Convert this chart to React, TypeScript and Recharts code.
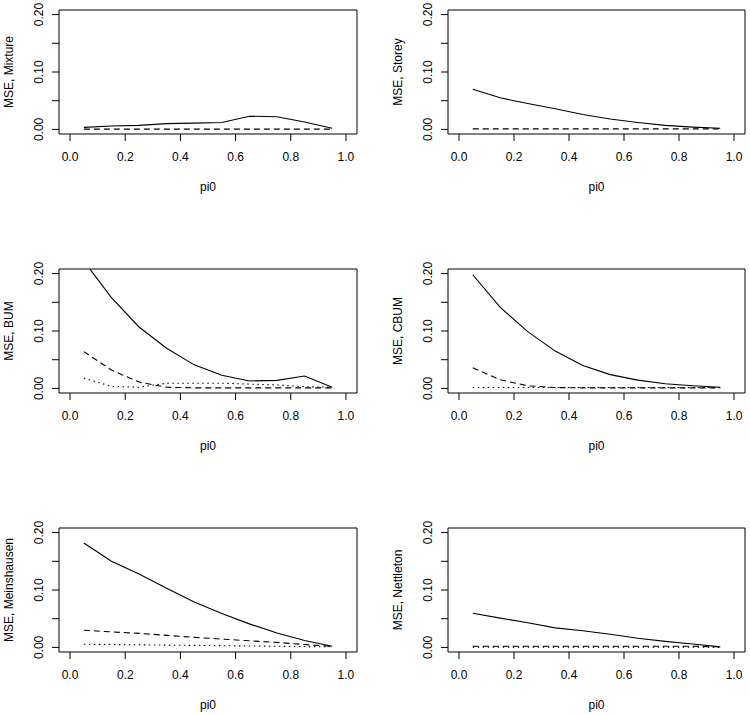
import { LineChart, Line, XAxis, YAxis, ReferenceArea, Label } from "recharts";

// pi0 grid used by every panel
const pi0 = [0.05, 0.15, 0.25, 0.35, 0.45, 0.55, 0.65, 0.75, 0.85, 0.95];

const xTicks = [0, 0.2, 0.4, 0.6, 0.8, 1.0];
const yTicks = [0, 0.05, 0.1, 0.15, 0.2];
const yLabelled = [0, 0.1, 0.2];

// Mixture
const mixSolid = [0.0035, 0.006, 0.007, 0.01, 0.011, 0.012, 0.023, 0.022, 0.013, 0.002];
const mixDashed = [0.0005, 0.0005, 0.0005, 0.0005, 0.0005, 0.0005, 0.0005, 0.0005, 0.0005, 0.0005];

// Storey
const storeySolid = [0.07, 0.055, 0.045, 0.036, 0.026, 0.018, 0.012, 0.007, 0.004, 0.002];
const storeyDashed = [0.001, 0.001, 0.001, 0.001, 0.001, 0.001, 0.001, 0.001, 0.001, 0.001];

// BUM
const bumSolid = [0.222, 0.158, 0.107, 0.07, 0.041, 0.023, 0.013, 0.014, 0.0215, 0.002];
const bumDashed = [0.064, 0.032, 0.011, 0.002, 0.001, 0.001, 0.001, 0.001, 0.001, 0.001];
const bumDotted = [0.018, 0.0035, 0.002, 0.009, 0.009, 0.009, 0.0075, 0.006, 0.003, 0.002];

// CBUM
const cbumSolid = [0.198, 0.141, 0.099, 0.065, 0.04, 0.024, 0.0145, 0.008, 0.0045, 0.002];
const cbumDashed = [0.036, 0.015, 0.0045, 0.0015, 0.001, 0.001, 0.001, 0.001, 0.001, 0.001];
const cbumDotted = [0.0015, 0.0015, 0.0015, 0.0015, 0.0015, 0.0015, 0.0015, 0.0015, 0.0015, 0.0015];

// Meinshausen
const meinSolid = [0.182, 0.15, 0.128, 0.103, 0.079, 0.059, 0.041, 0.025, 0.012, 0.002];
const meinDashed = [0.03, 0.027, 0.0245, 0.021, 0.0175, 0.0145, 0.0115, 0.0087, 0.005, 0.002];
const meinDotted = [0.0055, 0.005, 0.0045, 0.004, 0.0035, 0.003, 0.0025, 0.002, 0.0015, 0.001];

// Nettleton
const nettSolid = [0.0595, 0.051, 0.043, 0.034, 0.029, 0.023, 0.016, 0.0105, 0.006, 0.001];
const nettDashed = [0.002, 0.002, 0.002, 0.002, 0.002, 0.002, 0.002, 0.002, 0.002, 0.001];
const nettDotted = [0.0005, 0.0005, 0.0005, 0.0005, 0.0005, 0.0005, 0.0005, 0.0005, 0.0005, 0.0005];

const FONT = "'Liberation Sans', Arial, Helvetica, sans-serif";
const X_DOMAIN: [number, number] = [-0.04, 1.04];
const Y_DOMAIN: [number, number] = [-0.008, 0.208];
const Y_AXIS_W = 60;
const X_AXIS_H = 70;
const TOP = 24;
const RIGHT = 5;
const BOX_H = 124;

const XTick = (props: any) => {
  const { x, y, payload } = props;
  return (
    <text x={x} y={y} textAnchor="middle" fontSize={12} fontFamily={FONT} fill="#000">
      {payload.value.toFixed(1)}
    </text>
  );
};

const YTick = (props: any) => {
  const { x, y, payload } = props;
  const v = payload.value;
  if (!yLabelled.some((t) => Math.abs(t - v) < 1e-9)) return <g />;
  return (
    <text
      x={x}
      y={y}
      transform={`rotate(-90, ${x}, ${y})`}
      textAnchor="middle"
      fontSize={12}
      fontFamily={FONT}
      fill="#000"
    >
      {v.toFixed(2)}
    </text>
  );
};

interface PanelProps {
  name: string;
  left: number; // plot box left edge on the page
  top: number; // plot box top edge on the page
  boxW: number;
  solid: number[];
  dashed?: number[];
  dotted?: number[];
}

function Panel({ name, left, top, boxW, solid, dashed, dotted }: PanelProps) {
  const data = pi0.map((x, i) => ({
    x,
    solid: solid[i],
    dashed: dashed ? dashed[i] : null,
    dotted: dotted ? dotted[i] : null,
  }));

  return (
    <div style={{ position: "absolute", left: left - Y_AXIS_W, top: top - TOP }}>
      <LineChart
        width={Y_AXIS_W + boxW + RIGHT}
        height={TOP + BOX_H + X_AXIS_H}
        data={data}
        margin={{ top: TOP, right: RIGHT, left: 0, bottom: 0 }}
        style={{ overflow: "visible" }}
      >
        <XAxis
          dataKey="x"
          type="number"
          domain={X_DOMAIN}
          ticks={xTicks}
          allowDataOverflow
          axisLine={false}
          tickLine={{ stroke: "#000" }}
          tickSize={7}
          tickMargin={20}
          tick={XTick}
          height={X_AXIS_H}
          interval={0}
        >
          <Label
            content={({ viewBox }: any) => (
              <text
                x={viewBox.x + viewBox.width / 2}
                y={viewBox.y + 57}
                textAnchor="middle"
                fontSize={12}
                fontFamily={FONT}
                fill="#000"
              >
                pi0
              </text>
            )}
          />
        </XAxis>
        <YAxis
          type="number"
          domain={Y_DOMAIN}
          ticks={yTicks}
          allowDataOverflow
          axisLine={false}
          tickLine={{ stroke: "#000" }}
          tickSize={7}
          tickMargin={9}
          tick={YTick}
          width={Y_AXIS_W}
          interval={0}
        >
          <Label
            content={({ viewBox }: any) => {
              const lx = viewBox.x + viewBox.width - 46;
              const ly = viewBox.y + viewBox.height / 2;
              return (
                <text
                  x={lx}
                  y={ly}
                  transform={`rotate(-90, ${lx}, ${ly})`}
                  textAnchor="middle"
                  fontSize={12}
                  fontFamily={FONT}
                  fill="#000"
                >
                  {`MSE, ${name}`}
                </text>
              );
            }}
          />
        </YAxis>
        <ReferenceArea
          x1={X_DOMAIN[0]}
          x2={X_DOMAIN[1]}
          y1={Y_DOMAIN[0]}
          y2={Y_DOMAIN[1]}
          fill="none"
          stroke="#000"
          strokeWidth={1}
          ifOverflow="visible"
        />
        <Line
          dataKey="solid"
          type="linear"
          stroke="#000"
          strokeWidth={1.1}
          dot={false}
          isAnimationActive={false}
        />
        {dashed && (
          <Line
            dataKey="dashed"
            type="linear"
            stroke="#000"
            strokeWidth={1.1}
            strokeDasharray="6 4"
            dot={false}
            isAnimationActive={false}
          />
        )}
        {dotted && (
          <Line
            dataKey="dotted"
            type="linear"
            stroke="#000"
            strokeWidth={1.1}
            strokeDasharray="1.5 3.5"
            dot={false}
            isAnimationActive={false}
          />
        )}
      </LineChart>
    </div>
  );
}

export default function App() {
  return (
    <div
      style={{
        position: "absolute",
        left: 0,
        top: 0,
        width: 750,
        height: 714,
        background: "#fff",
        overflow: "hidden",
      }}
    >
      <Panel name="Mixture" left={59} top={10} boxW={298} solid={mixSolid} dashed={mixDashed} />
      <Panel name="Storey" left={448} top={10} boxW={297} solid={storeySolid} dashed={storeyDashed} />
      <Panel name="BUM" left={59} top={269} boxW={298} solid={bumSolid} dashed={bumDashed} dotted={bumDotted} />
      <Panel name="CBUM" left={448} top={269} boxW={297} solid={cbumSolid} dashed={cbumDashed} dotted={cbumDotted} />
      <Panel name="Meinshausen" left={59} top={528} boxW={298} solid={meinSolid} dashed={meinDashed} dotted={meinDotted} />
      <Panel name="Nettleton" left={448} top={528} boxW={297} solid={nettSolid} dashed={nettDashed} dotted={nettDotted} />
    </div>
  );
}
